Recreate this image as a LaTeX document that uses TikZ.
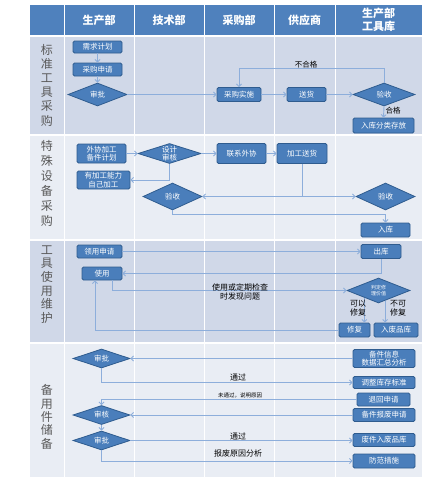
\documentclass[tikz,border=0pt]{standalone}
\usepackage{fontspec}
\setmainfont{Noto Sans CJK SC}
\usetikzlibrary{shapes.geometric,arrows.meta,calc}
\definecolor{hdr}{HTML}{4F81BD}
\definecolor{rowA}{HTML}{D0D8E8}
\definecolor{rowB}{HTML}{E9EDF4}
\definecolor{nfill}{HTML}{4A7EBB}
\definecolor{nborder}{HTML}{2F5C8F}
\definecolor{conn}{HTML}{8DAEDB}
\definecolor{lbl}{HTML}{595959}
\tikzset{
  box/.style={draw=nborder, line width=0.8pt, fill=nfill, rounded corners=1.5pt, text=white,
    font=\fontsize{7.5}{8.5}\selectfont, inner sep=0pt, align=center},
  dia/.style={diamond, draw=nborder, line width=0.8pt, fill=nfill, inner sep=0pt},
  dtext/.style={text=white, font=\fontsize{7.5}{8.5}\selectfont, align=center, inner sep=0pt},
  hdrtext/.style={text=white, font=\fontsize{11}{12.5}\selectfont\bfseries, align=center},
  lanetext/.style={text=lbl, align=center, inner sep=0pt},
  lab/.style={text=black, font=\fontsize{7.5}{9}\selectfont, align=center, inner sep=0pt},
  conn/.style={draw=conn, line width=0.9pt, -{Straight Barb[length=2.5pt,width=5pt]}},
}
\begin{document}
\begin{tikzpicture}[x=1pt,y=-1pt]
\useasboundingbox (0,0) rectangle (447,483);
\fill[white] (0,0) rectangle (447,483);
% table
\fill[hdr] (30,5) rectangle (422,35);
\fill[rowA] (30,36.5) rectangle (422,134);
\fill[rowB] (30,135.5) rectangle (422,239);
\fill[rowA] (30,240.5) rectangle (422,342);
\fill[rowB] (30,343.5) rectangle (422,477);
\foreach \x in {64,134,204,274,335} \draw[white, line width=1pt] (\x,5) -- (\x,477);
% headers
\node[hdrtext] (h1) at (99,20) {生产部};
\node[hdrtext] (h2) at (169,20) {技术部};
\node[hdrtext] (h3) at (239,20) {采购部};
\node[hdrtext] (h4) at (304.5,20) {供应商};
\node[hdrtext] (h5) at (378.5,20) {生产部\\工具库};
% lane labels
\node[lanetext, font=\fontsize{12}{14.2}\selectfont] (l1) at (47,85) {标\\准\\工\\具\\采\\购};
\node[lanetext, font=\fontsize{12}{15}\selectfont] (l2) at (47,183) {特\\殊\\设\\备\\采\\购};
\node[lanetext, font=\fontsize{12}{13.6}\selectfont] (l3) at (47,284.5) {工\\具\\使\\用\\维\\护};
\node[lanetext, font=\fontsize{12}{13.3}\selectfont] (l4) at (47,417) {备\\用\\件\\储\\备};

% ---- row 1
\node[box, minimum width=49pt, minimum height=12pt] (r1a) at (97.5,47) {需求计划};
\node[box, minimum width=49pt, minimum height=13pt] (r1b) at (97.5,69.5) {采购申请};
\node[dia, minimum width=59pt, minimum height=23pt, label={[dtext]center:审批}] (r1c) at (97.5,94.5) {};
\node[box, minimum width=44pt, minimum height=14pt] (r1d) at (239,94.5) {采购实施};
\node[box, minimum width=39pt, minimum height=14pt] (r1e) at (306.5,94.5) {送货};
\node[dia, minimum width=62pt, minimum height=23pt, label={[dtext]center:验收}] (r1f) at (384,94.5) {};
\node[box, minimum width=61pt, minimum height=15pt] (r1g) at (383.5,125.5) {入库分类存放};
\draw[conn] (r1a) -- (r1b);
\draw[conn] (r1b) -- (r1c);
\draw[conn] (r1c) -- (r1d);
\draw[conn] (r1d) -- (r1e);
\draw[conn] (r1e) -- (r1f);
\draw[conn] (r1f.north) -- ++(0,-14) -| (r1d.north);
\node[lab] (t1) at (306,64.5) {不合格};
\draw[conn] (r1f.south) -- (r1g.north);
\node[lab] (t2) at (393,111) {合格};

% ---- row 2
\node[box, minimum width=49pt, minimum height=19pt] (r2a) at (101.5,153.5) {外协加工\\备件计划};
\node[dia, minimum width=63pt, minimum height=20pt, label={[dtext]center:设计\\审核}] (r2b) at (169.5,153.5) {};
\node[box, minimum width=49pt, minimum height=20pt] (r2c) at (241.5,153.5) {联系外协};
\node[box, minimum width=50pt, minimum height=20pt] (r2d) at (302,153.5) {加工送货};
\node[box, minimum width=53pt, minimum height=18pt] (r2e) at (103.5,180) {有加工能力\\自己加工};
\node[dia, minimum width=59pt, minimum height=27pt, label={[dtext]center:验收}] (r2f) at (172.5,196.5) {};
\node[dia, minimum width=59pt, minimum height=27pt, label={[dtext]center:验收}] (r2g) at (385.5,196.5) {};
\node[box, minimum width=49pt, minimum height=14pt] (r2h) at (385.5,230) {入库};
\draw[conn] (r2a) -- (r2b);
\draw[conn] (r2b) -- (r2c);
\draw[conn] (r2c) -- (r2d);
\draw[conn] (r2b.south) |- (r2e.east);
\draw[conn] (r2d.south) |- (r2f.east);
\draw[conn] (r2d.south) |- (r2g.west);
\draw[conn] (r2f.south) -- ++(0,4) -| (r2h.north);

% ---- row 3
\node[box, minimum width=45pt, minimum height=13pt] (r3a) at (99.5,251.5) {领用申请};
\node[box, minimum width=40pt, minimum height=14pt] (r3b) at (381,251.5) {出库};
\node[box, minimum width=40pt, minimum height=13pt] (r3c) at (102,273.5) {使用};
\node[dia, minimum width=63pt, minimum height=25pt, label={[dtext, font=\fontsize{5}{6}\selectfont]center:判定修\\理价值}] (r3d) at (378.5,290.5) {};
\node[box, minimum width=31pt, minimum height=14pt] (r3e) at (354.5,330) {修复};
\node[box, minimum width=44pt, minimum height=14pt] (r3f) at (396,330) {入废品库};
\draw[conn] (r3a) -- (r3b);
\draw[conn] (r3b.south) |- (r3c.east);
\draw[conn] ([xshift=10pt]r3c.south) |- (r3d.west);
\node[lab, font=\fontsize{8}{9.5}\selectfont] (t3) at (240,292) {使用或定期检查\\时发现问题};
\draw[conn] (r3d.-153) -- (r3d.-153 |- r3e.north);
\draw[conn] (r3d.-57) -- (r3d.-57 |- r3f.north);
\node[lab, font=\fontsize{8}{9}\selectfont] (t4) at (358,308) {可以\\修复};
\node[lab, font=\fontsize{8}{9}\selectfont] (t5) at (398,308) {不可\\修复};
\draw[conn] (r3e.west) -| ([xshift=-7pt]r3c.south);

% ---- row 4
\node[dia, minimum width=57pt, minimum height=19pt, label={[dtext]center:审批}] (r4a) at (101.5,358.5) {};
\node[box, minimum width=62pt, minimum height=18pt] (r4b) at (384,358.5) {备件信息\\数据汇总分析};
\node[box, minimum width=62pt, minimum height=12pt] (r4c) at (384,382.5) {调整库存标准};
\node[box, minimum width=53pt, minimum height=13pt] (r4d) at (383.5,399.5) {退回申请};
\node[box, minimum width=62pt, minimum height=13pt] (r4e) at (384,415) {备件报废申请};
\node[dia, minimum width=57pt, minimum height=19pt, label={[dtext]center:审核}] (r4f) at (101.5,415) {};
\node[dia, minimum width=57pt, minimum height=19pt, label={[dtext]center:审批}] (r4g) at (101.5,440.5) {};
\node[box, minimum width=62pt, minimum height=13pt] (r4h) at (384,440) {废件入废品库};
\node[box, minimum width=62pt, minimum height=14pt] (r4i) at (384,461) {防范措施};
\draw[conn] (r4b) -- (r4a);
\draw[conn] (r4a.south) |- (r4c.west);
\node[lab, font=\fontsize{8}{9}\selectfont] (t6) at (238,377) {通过};
\draw[conn] (r4d.west) -| (r4f.north);
\node[lab, font=\fontsize{5.5}{6.5}\selectfont] (t7) at (240,395) {未通过，说明原因};
\draw[conn] (r4e) -- (r4f);
\draw[conn] (r4f) -- (r4g);
\draw[conn] (r4g.east) -- (r4h.west |- r4g.east);
\node[lab, font=\fontsize{8}{9}\selectfont] (t8) at (238,436) {通过};
\draw[conn] (r4g.south) |- (r4i.west);
\node[lab, font=\fontsize{8}{9}\selectfont] (t9) at (238,453) {报废原因分析};
\end{tikzpicture}
\end{document}
